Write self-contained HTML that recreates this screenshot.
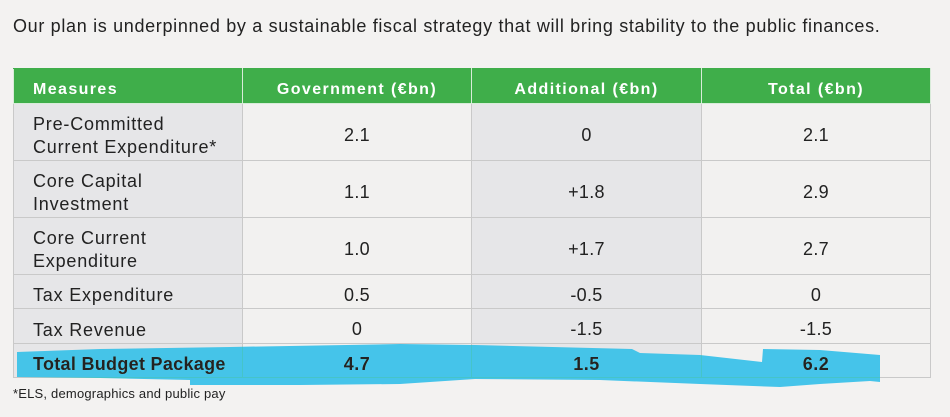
<!DOCTYPE html>
<html><head><meta charset="utf-8"><style>
html,body{margin:0;padding:0;}
body{width:950px;height:417px;background:#f3f2f1;position:relative;overflow:hidden;font-family:"Liberation Sans",sans-serif;color:#222;}
.title{position:absolute;left:13px;top:16px;font-size:18px;white-space:nowrap;color:#222;letter-spacing:0.67px;}
table{position:absolute;left:13px;top:68px;border-collapse:collapse;table-layout:fixed;width:917px;}
td,th{border:1px solid #c9c9c9;padding:0;font-size:18px;}
th{background:#3fae4a;color:#fff;font-weight:bold;font-size:16px;letter-spacing:1.4px;height:35px;padding-top:8px;box-sizing:border-box;border-color:#d8ecd9;border-top-color:#3fae4a;}
th.l{text-align:left;padding-left:19px;}
td{text-align:center;padding-top:7px;letter-spacing:0.3px;}
td.l{text-align:left;padding-left:19px;padding-top:8px;line-height:23px;letter-spacing:0.8px;}
.g{background:#e6e6e8;}
.w{background:#f2f1f0;}
.tot td{font-weight:bold;letter-spacing:0.5px;}
.tot td.l{letter-spacing:0.3px;}
.foot{position:absolute;left:13px;top:386px;font-size:13px;letter-spacing:0.2px;color:#222;}
svg{position:absolute;left:0;top:0;mix-blend-mode:darken;}
</style></head><body>
<div class="title">Our plan is underpinned by a sustainable fiscal strategy that will bring stability to the public finances.</div>
<table>
<colgroup><col style="width:229px"><col style="width:229px"><col style="width:230px"><col style="width:229px"></colgroup>
<tr><th class="l">Measures</th><th>Government (€bn)</th><th>Additional (€bn)</th><th>Total (€bn)</th></tr>
<tr style="height:57px"><td class="l g">Pre-Committed<br>Current Expenditure*</td><td class="w">2.1</td><td class="g">0</td><td class="w">2.1</td></tr>
<tr style="height:57px"><td class="l g">Core Capital<br>Investment</td><td class="w">1.1</td><td class="g">+1.8</td><td class="w">2.9</td></tr>
<tr style="height:57px"><td class="l g">Core Current<br>Expenditure</td><td class="w">1.0</td><td class="g">+1.7</td><td class="w">2.7</td></tr>
<tr style="height:34px"><td class="l g">Tax Expenditure</td><td class="w">0.5</td><td class="g">-0.5</td><td class="w">0</td></tr>
<tr style="height:35px"><td class="l g">Tax Revenue</td><td class="w">0</td><td class="g">-1.5</td><td class="w">-1.5</td></tr>
<tr class="tot" style="height:34px"><td class="l g">Total Budget Package</td><td class="w">4.7</td><td class="g">1.5</td><td class="w">6.2</td></tr>
</table>
<svg width="950" height="417">
<polygon fill="#45c4ea" points="17,352 100,349 230,347 400,344 475,345 632,349 640,353 700,355 762,362 763,349 820,350 880,355 880,382 870,381 820,384 780,387 700,384 600,380 475,379 400,384 300,385 190,385 190,380 100,378 17,377"/>
</svg>
<div class="foot">*ELS, demographics and public pay</div>
</body></html>
